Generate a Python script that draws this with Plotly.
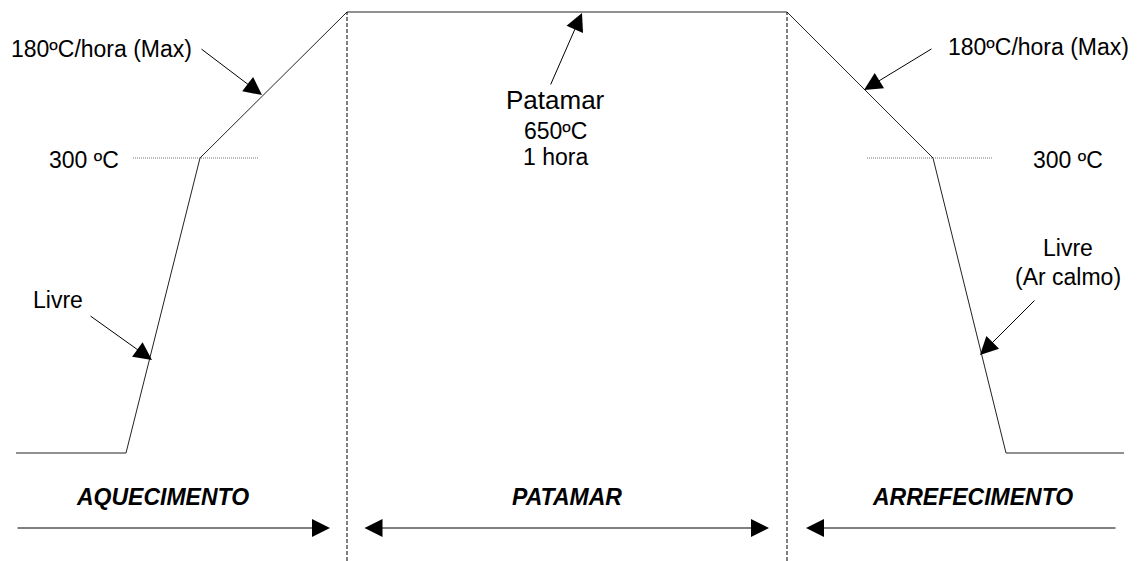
import plotly.graph_objects as go

# Schematic heat-treatment cycle (plot units: x = time axis, y = temperature level)
profile_x = [16, 126, 200, 347, 787, 933, 1006, 1124]
profile_y = [108, 108, 403, 549, 549, 403, 108, 108]

# phase boundaries (dashed verticals)
boundary_x = [347, 787]
boundary_y = [0, 549]

# 300 ºC reference marks (dotted)
ref_left_x = [133, 259]
ref_right_x = [867, 992]
ref_y = 403

# phase labels and their arrows
phase_labels = ['AQUECIMENTO', 'PATAMAR', 'ARREFECIMENTO']
phase_label_x = [162, 567, 972]
phase_label_y = 64
phase_arrow_tail = [16, 363, 1117]
phase_arrow_tip = [330, 769, 806]
phase_arrow_y = 33

# callout texts: (text, x, y, size)
callouts = [
    ('180ºC/hora (Max)', 101, 512, 23),
    ('180ºC/hora (Max)', 1038, 514, 23),
    ('300 ºC', 84, 401, 23),
    ('300 ºC', 1068, 401, 23),
    ('Livre', 58, 261, 23),
    ('Livre', 1068, 313, 23),
    ('(Ar calmo)', 1068, 284, 23),
    ('Patamar', 555, 461, 26),
    ('650ºC', 555, 430, 23),
    ('1 hora', 555, 404, 23),
]

# callout arrows: tail (x, y) -> tip (x, y)
callout_tail_x = [200, 933, 550, 89, 1036]
callout_tail_y = [513, 513, 475, 246, 262]
callout_tip_x = [262, 864, 582, 152, 980]
callout_tip_y = [466, 471, 548, 201, 206]

FONT = 'Liberation Sans, Arial, sans-serif'

fig = go.Figure()

# temperature profile
fig.add_trace(go.Scatter(x=profile_x, y=profile_y, mode='lines',
                         line=dict(color='#222222', width=1), hoverinfo='skip'))

# dashed phase boundaries
for bx in boundary_x:
    fig.add_trace(go.Scatter(x=[bx, bx], y=boundary_y, mode='lines',
                             line=dict(color='black', width=1, dash='4px,2px'),
                             hoverinfo='skip'))

# dotted 300 ºC marks
for rx in (ref_left_x, ref_right_x):
    fig.add_trace(go.Scatter(x=rx, y=[ref_y, ref_y], mode='lines',
                             line=dict(color='#777777', width=1, dash='1px,1px'),
                             hoverinfo='skip'))

annotations = []

for text, x, y, size in callouts:
    annotations.append(dict(x=x, y=y, xref='x', yref='y', text=text, showarrow=False,
                            font=dict(family=FONT, size=size, color='black'),
                            xanchor='center', yanchor='middle'))

for tx, ty, hx, hy in zip(callout_tail_x, callout_tail_y, callout_tip_x, callout_tip_y):
    annotations.append(dict(x=hx, y=hy, ax=tx, ay=ty, xref='x', yref='y',
                            axref='x', ayref='y', text='', showarrow=True,
                            arrowhead=2, arrowsize=3.6, arrowwidth=1,
                            arrowcolor='black', standoff=0, startstandoff=0))

for label, lx in zip(phase_labels, phase_label_x):
    annotations.append(dict(x=lx, y=phase_label_y, xref='x', yref='y',
                            text='<b><i>' + label + '</i></b>', showarrow=False,
                            font=dict(family=FONT, size=23, color='black'),
                            xanchor='center', yanchor='middle'))

for i, (tail, tip) in enumerate(zip(phase_arrow_tail, phase_arrow_tip)):
    annotations.append(dict(x=tip, y=phase_arrow_y, ax=tail, ay=phase_arrow_y,
                            xref='x', yref='y', axref='x', ayref='y', text='',
                            showarrow=True, arrowhead=2, arrowsize=3.6, arrowwidth=1,
                            arrowside='end+start' if i == 1 else 'end',
                            startarrowhead=2, startarrowsize=3.6,
                            arrowcolor='black', standoff=0, startstandoff=0))

fig.update_layout(
    width=1140,
    height=561,
    margin=dict(l=0, r=0, t=0, b=0),
    paper_bgcolor='white',
    plot_bgcolor='white',
    showlegend=False,
    hovermode=False,
    xaxis=dict(range=[0, 1140], visible=False, fixedrange=True),
    yaxis=dict(range=[0, 561], visible=False, fixedrange=True),
    annotations=annotations,
)

# drop the default page margin so the figure sits at the window's corner
fig.write_html("out.html", config={'displayModeBar': False},
               post_script="document.body.style.margin='0px';")
